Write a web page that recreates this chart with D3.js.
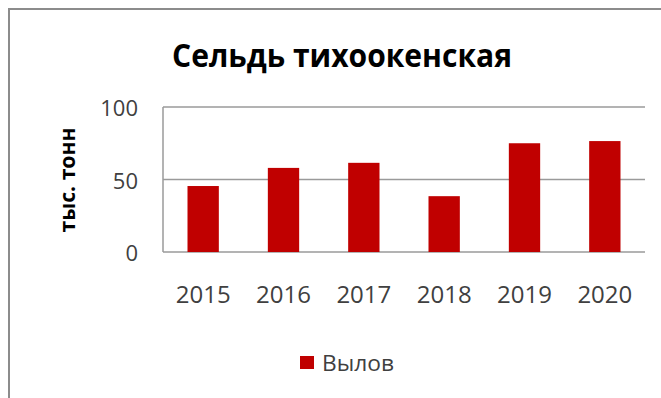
<!DOCTYPE html>
<html>
<head>
<meta charset="utf-8">
<script src="https://cdn.jsdelivr.net/npm/d3@7"></script>
<style>
  body { margin: 0; background: #fff; }
  text { font-family: "Open Sans", "Noto Sans", sans-serif; }
</style>
</head>
<body>
<svg id="chart" width="661" height="398"></svg>
<script>
// chart data
const years = ['2015', '2016', '2017', '2018', '2019', '2020'];
const catch_ = [45.5, 58, 61.5, 38.5, 75, 76.5];
const yTicks = [0, 50, 100];
const title = 'Сельдь тихоокенская';
const yLabel = 'тыс. тонн';
const seriesName = 'Вылов';

const barColor = '#c00000';
const textColor = '#404040';

const svg = d3.select('#chart');

// outer chart border
svg.append('rect')
    .attr('x', 9).attr('y', 9)
    .attr('width', 700).attr('height', 450)
    .attr('fill', 'none')
    .attr('stroke', '#8c8c8c')
    .attr('stroke-width', 2);

const plot = {left: 163, right: 645, top: 107, bottom: 252};

const x = d3.scaleBand()
    .domain(years)
    .range([plot.left, plot.right])
    .paddingInner(0.61)
    .paddingOuter(0.305);

const y = d3.scaleLinear()
    .domain([0, 100])
    .range([plot.bottom, plot.top]);

// gridlines
svg.append('g')
    .selectAll('line')
    .data(yTicks)
    .enter().append('line')
    .attr('x1', plot.left)
    .attr('x2', plot.right)
    .attr('y1', (d) => y(d))
    .attr('y2', (d) => y(d))
    .attr('stroke', '#9a9a9a')
    .attr('stroke-width', 1.5);

// left axis line
svg.append('line')
    .attr('x1', plot.left).attr('x2', plot.left)
    .attr('y1', y(100)).attr('y2', y(0))
    .attr('stroke', '#9a9a9a')
    .attr('stroke-width', 1.5);

// bars
svg.append('g')
    .selectAll('rect')
    .data(years)
    .enter().append('rect')
    .attr('x', (d) => x(d))
    .attr('width', x.bandwidth())
    .attr('y', (d, i) => y(catch_[i]))
    .attr('height', (d, i) => y(0) - y(catch_[i]))
    .attr('fill', barColor);

// y tick labels
svg.append('g')
    .selectAll('text')
    .data(yTicks)
    .enter().append('text')
    .attr('x', 138)
    .attr('y', (d) => y(d) + 9)
    .attr('text-anchor', 'end')
    .attr('font-size', 22)
    .attr('fill', textColor)
    .text((d) => d);

// x tick labels
svg.append('g')
    .selectAll('text')
    .data(years)
    .enter().append('text')
    .attr('x', (d) => x(d) + x.bandwidth() / 2)
    .attr('y', 303)
    .attr('text-anchor', 'middle')
    .attr('font-size', 24)
    .attr('fill', textColor)
    .text((d) => d);

// title
svg.append('text')
    .attr('x', 342)
    .attr('y', 67)
    .attr('text-anchor', 'middle')
    .attr('font-size', 32)
    .attr('font-weight', 'bold')
    .attr('fill', '#000')
    .attr('textLength', 340)
    .attr('lengthAdjust', 'spacingAndGlyphs')
    .text(title);

// y axis title
svg.append('text')
    .attr('transform', 'translate(75,180) rotate(-90)')
    .attr('text-anchor', 'middle')
    .attr('font-size', 22)
    .attr('font-weight', 'bold')
    .attr('fill', '#000')
    .attr('textLength', 105)
    .attr('lengthAdjust', 'spacingAndGlyphs')
    .text(yLabel);

// legend
const legend = svg.append('g');
legend.append('rect')
    .attr('x', 300).attr('y', 356)
    .attr('width', 14).attr('height', 13)
    .attr('fill', barColor);
legend.append('text')
    .attr('x', 322)
    .attr('y', 371)
    .attr('font-size', 22)
    .attr('fill', textColor)
    .attr('textLength', 72)
    .attr('lengthAdjust', 'spacingAndGlyphs')
    .text(seriesName);
</script>
</body>
</html>
